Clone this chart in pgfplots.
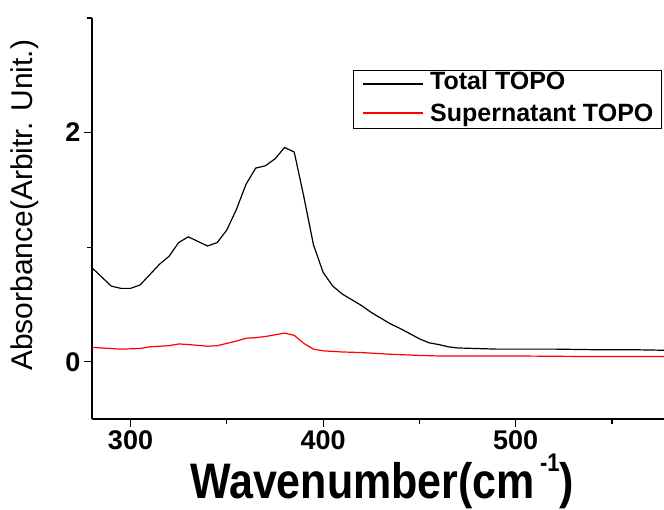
\documentclass[border=0pt]{standalone}
\usepackage{fontspec}
\setmainfont{Liberation Sans}
\usepackage{pgfplots}
\pgfplotsset{compat=1.18}
\begin{document}
\begin{tikzpicture}
\useasboundingbox (-92pt,-90pt) rectangle (572pt,419pt);
\begin{axis}[
  at={(0pt,0pt)}, anchor=south west,
  width=572pt, height=401pt, scale only axis,
  xmin=280, xmax=577, ymin=-0.5, ymax=3,
  axis x line*=bottom, axis y line*=left,
  axis line style={line width=1.3pt},
  xtick={300,400,500}, minor xtick={350,450,550},
  ytick={0,2}, minor ytick={1,3},
  tick align=outside,
  major tick length=8pt, minor tick length=5pt,
  every tick/.style={line width=1.2pt, black},
  /pgf/number format/assume math mode=true,
  ticklabel style={font=\bfseries\fontsize{27}{27}\selectfont},
  xlabel={\scalebox{1}[1.16]{Wavenumber(cm\hspace{5pt}\raisebox{22.5pt}{\fontsize{22}{22}\selectfont -1})}},
  ylabel={Absorbance(Arbitr. Unit.)},
  xlabel style={font=\bfseries\fontsize{43}{43}\selectfont, at={(axis description cs:0.507,-0.197)}, anchor=base},
  ylabel style={font=\fontsize{30}{30}\selectfont, at={(axis description cs:-0.117,0.533)}, anchor=center},
]
\addplot[black, line width=1.2pt] coordinates {
(280,0.82)(285,0.74)(290,0.66)(295,0.64)(300,0.64)(305,0.67)(310,0.76)(315,0.85)(320,0.92)(325,1.04)(330,1.09)(335,1.05)(340,1.01)(345,1.04)(350,1.15)(355,1.33)(360,1.55)(365,1.69)(370,1.71)(375,1.77)(380,1.87)(385,1.83)(390,1.44)(395,1.02)(400,0.78)(405,0.66)(410,0.59)(415,0.54)(420,0.49)(425,0.43)(430,0.38)(435,0.33)(440,0.29)(445,0.245)(450,0.20)(455,0.165)(460,0.15)(465,0.13)(470,0.12)(480,0.115)(490,0.11)(500,0.11)(520,0.11)(540,0.105)(560,0.105)(577,0.10)
};
\addplot[red, line width=1.2pt] coordinates {
(280,0.125)(290,0.115)(295,0.11)(305,0.115)(310,0.13)(320,0.14)(325,0.155)(330,0.15)(340,0.135)(345,0.14)(350,0.16)(355,0.18)(360,0.205)(365,0.21)(370,0.22)(375,0.235)(380,0.25)(385,0.23)(390,0.16)(395,0.11)(400,0.095)(410,0.085)(420,0.08)(435,0.065)(450,0.055)(460,0.05)(500,0.05)(540,0.045)(577,0.045)
};
\end{axis}
% legend (decoration only)
\draw[line width=0.8pt, fill=white] (261pt,349pt) rectangle (569pt,291pt);
\draw[black, line width=1.3pt] (271pt,335pt) -- (331pt,335pt);
\node[anchor=base west, inner sep=0pt, font=\bfseries\fontsize{25}{25}\selectfont] at (338pt,329pt) {Total TOPO};
\draw[red, line width=1.3pt] (271pt,306pt) -- (331pt,306pt);
\node[anchor=base west, inner sep=0pt, font=\bfseries\fontsize{25}{25}\selectfont] at (338pt,297pt) {Supernatant TOPO};
\end{tikzpicture}
\end{document}
